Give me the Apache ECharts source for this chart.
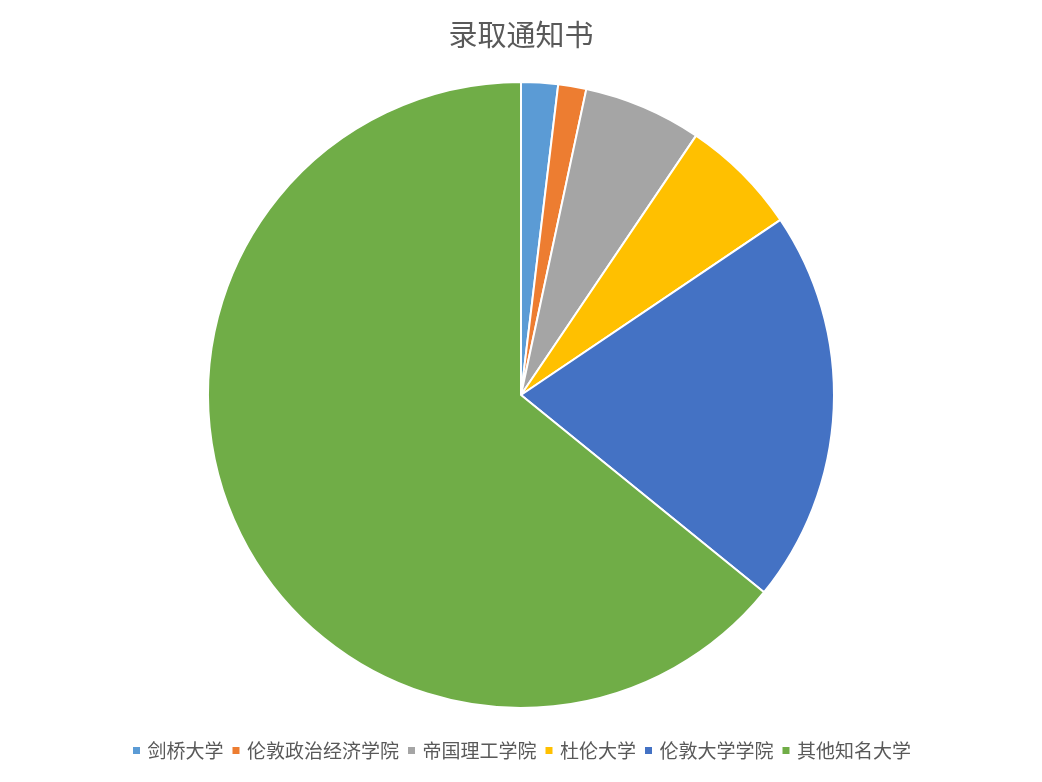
<!DOCTYPE html>
<html><head><meta charset="utf-8">
<script src="https://cdn.jsdelivr.net/npm/echarts@6/dist/echarts.min.js"></script>
<style>html,body{margin:0;padding:0;background:#fff}#c{width:1042px;height:782px}</style>
</head><body><div id="c"></div>
<script>
const categories = ['剑桥大学','伦敦政治经济学院','帝国理工学院','杜伦大学','伦敦大学学院','其他知名大学'];
const values = [1.9, 1.45, 6.1, 6.1, 20.3, 64.15];
const colors = ['#5B9BD5','#ED7D31','#A5A5A5','#FFC000','#4472C4','#70AD47'];
const font = '"Noto Sans CJK SC", sans-serif';
const chart = echarts.init(document.getElementById('c'));
chart.setOption({
  animation:false,
  color: colors,
  title:{text:'录取通知书', left:'center', top:15, textStyle:{fontFamily:font, fontSize:29, fontWeight:'normal', color:'#595959'}},
  legend:{bottom:17, left:'center', icon:'rect', itemWidth:9, itemHeight:9, itemGap:7,
    textStyle:{fontFamily:font, fontSize:19, color:'#595959', padding:[0,0,0,1.5]},
    data: categories},
  series:[{type:'pie', center:[521,395], radius:313, startAngle:90, clockwise:true,
    label:{show:false}, labelLine:{show:false},
    itemStyle:{borderColor:'#fff', borderWidth:2},
    data: categories.map((n,i)=>({name:n, value:values[i]}))}]
});
</script></body></html>
